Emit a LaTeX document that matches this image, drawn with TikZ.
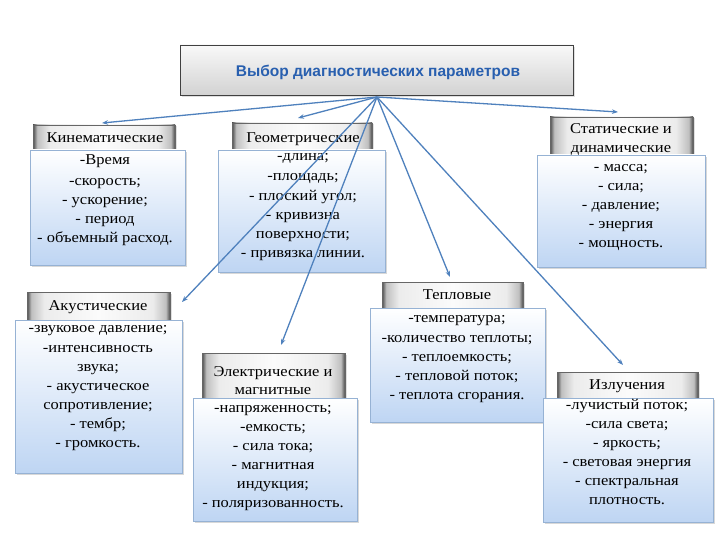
\documentclass[tikz,border=0pt]{standalone}
\usepackage{fontspec}
\setmainfont[FakeStretch=1.1]{Liberation Serif}
\newfontfamily\titlefont{Liberation Sans}
\usetikzlibrary{shadows,arrows.meta}
\definecolor{conncol}{RGB}{79,129,189}
\definecolor{bodyblue}{RGB}{190,213,243}
\definecolor{bodyedge}{RGB}{150,178,212}
\definecolor{titleblue}{RGB}{40,95,175}
\pgfdeclarehorizontalshading{hdrshade}{100bp}{color(0bp)=(black!70); color(25bp)=(black!70); color(26.5bp)=(gray!50); color(31bp)=(gray!15); color(50bp)=(gray!3); color(69bp)=(gray!15); color(73.5bp)=(gray!50); color(75bp)=(black!70); color(100bp)=(black!70)}
\begin{document}
\begin{tikzpicture}[x=1pt,y=-1pt,
  hdr/.style={rectangle, draw=black!60, line width=0.6pt, shading=hdrshade, inner sep=0,
    drop shadow={shadow xshift=1.5pt, shadow yshift=-1.5pt, opacity=0.25}},
  bodybox/.style={rectangle, draw=bodyedge, line width=0.8pt, top color=white, bottom color=bodyblue, inner sep=0,
    drop shadow={shadow xshift=2pt, shadow yshift=-2pt, opacity=0.3}},
  txt/.style={anchor=north, inner sep=0, align=center, font=\fontsize{15}{19}\selectfont},
  conn/.style={draw=conncol, line width=1.3pt, -{Stealth[length=6pt,width=4.5pt]}},
  titlebox/.style={rectangle, draw=black!75, line width=0.8pt, top color=gray!5, bottom color=gray!35, inner sep=0,
    drop shadow={shadow xshift=2pt, shadow yshift=-2pt, opacity=0.25}}]
\useasboundingbox (0,0) rectangle (720,540);
\fill[white] (0,0) rectangle (720,540);

% title
\node[titlebox, minimum width=393pt, minimum height=50pt] (title) at (376.5,70) {};
\node[inner sep=0, font=\titlefont\bfseries\fontsize{15.5}{17}\selectfont, text=titleblue] (titletxt) at (378,72) {Выбор диагностических параметров};
\coordinate (hub) at (377,97);

% Kinematic
\node[hdr, minimum width=142pt, minimum height=35pt] (kh) at (104,142.5) {};
\node[bodybox, minimum width=155pt, minimum height=115pt] (kb) at (107.5,207.5) {};
\node[txt] (kt) at (105,129.2) {\strut Кинематические\\[3pt] -Время\\[2pt] -скорость;\\ - ускорение;\\ - период\\ - объемный расход.};

% Geometric
\node[hdr, minimum width=140pt, minimum height=37pt] (gh) at (302,141.5) {};
\node[bodybox, minimum width=167pt, minimum height=122pt] (gb) at (301.5,211) {};
\node[txt] (gt) at (303,129.2) {\strut Геометрические\\[-1pt] -длина;\\[1pt] -площадь;\\[1pt] - плоский угол;\\ - кривизна\\ поверхности;\\ - привязка линии.};

% Static
\node[hdr, minimum width=143pt, minimum height=43pt] (sh) at (621.5,138.5) {};
\node[bodybox, minimum width=168pt, minimum height=112pt] (sb) at (621,211) {};
\node[txt] (st) at (621,120.2) {\strut Статические и\\ динамические\\ - масса;\\ - сила;\\ - давление;\\ - энергия\\ - мощность.};

% Acoustic
\node[hdr, minimum width=143pt, minimum height=38pt] (ah) at (98.5,311) {};
\node[bodybox, minimum width=167pt, minimum height=153pt] (ab) at (98.5,396.5) {};
\node[txt] (at) at (98,297.2) {\strut Акустические\\[3pt] -звуковое давление;\\[1pt] -интенсивность\\ звука;\\ - акустическое\\ сопротивление;\\ - тембр;\\ - громкость.};

% Electric
\node[hdr, minimum width=143pt, minimum height=47pt] (eh) at (273.5,376.5) {};
\node[bodybox, minimum width=164pt, minimum height=123pt] (eb) at (275,459.5) {};
\node[txt] (et) at (273,363.2) {\strut Электрические и\\[-1pt] магнитные\\[-1pt] -напряженность;\\ -емкость;\\ - сила тока;\\ - магнитная\\ индукция;\\ - поляризованность.};

% Thermal
\node[hdr, minimum width=141pt, minimum height=33pt] (th) at (452.5,298.5) {};
\node[bodybox, minimum width=175pt, minimum height=114pt] (tb) at (457.5,365) {};
\node[txt] (tt) at (457,286.2) {\strut Тепловые\\[4pt] -температура;\\[1pt] -количество теплоты;\\ - теплоемкость;\\ - тепловой поток;\\ - теплота сгорания.};

% Radiation
\node[hdr, minimum width=141pt, minimum height=33pt] (rh) at (627.5,388.5) {};
\node[bodybox, minimum width=170pt, minimum height=124pt] (rb) at (628,460) {};
\node[txt] (rt) at (627,376.2) {\strut Излучения\\[1pt] -лучистый поток;\\ -сила света;\\ - яркость;\\ - световая энергия\\ - спектральная\\ плотность.};

% connector ends
\coordinate (ke) at (102,123);
\coordinate (ge) at (298,118);
\coordinate (se) at (618,112);
\coordinate (ae) at (182,302);
\coordinate (ee) at (281,345);
\coordinate (te) at (450,277);
\coordinate (re) at (623,365);

\draw[conn] (hub) -- (ke);
\draw[conn] (hub) -- (ge);
\draw[conn] (hub) -- (se);
\draw[conn] (hub) -- (ae);
\draw[conn] (hub) -- (ee);
\draw[conn] (hub) -- (te);
\draw[conn] (hub) -- (re);
\end{tikzpicture}
\end{document}
